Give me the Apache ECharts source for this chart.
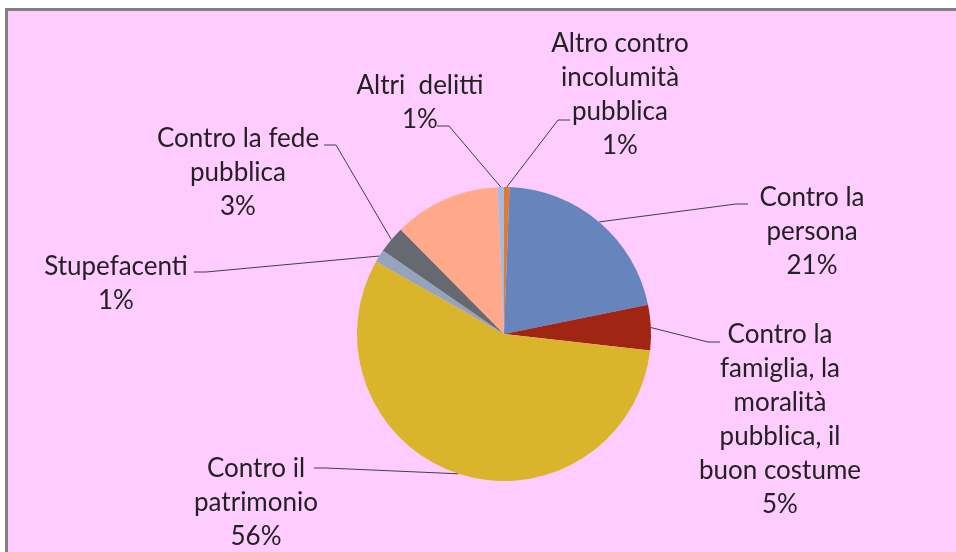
<!DOCTYPE html>
<html>
<head>
<meta charset="utf-8">
<script src="https://cdn.jsdelivr.net/npm/echarts@6/dist/echarts.min.js"></script>
<style>
  html, body { margin: 0; padding: 0; background: #ffffff; }
  #frame {
    position: absolute; left: 5px; top: 8px; width: 960px; height: 560px;
    border-top: 3px solid #808080; border-left: 3px solid #808080;
    background: #ffccff;
  }
  #chart { position: absolute; left: 0; top: 0; width: 956px; height: 552px; }
</style>
</head>
<body>
<div id="frame"></div>
<div id="chart"></div>
<script>
// slices, clockwise from 12 o'clock
const categories = [
  'Altro contro\nincolumità\npubblica',
  'Contro la\npersona',
  'Contro la\nfamiglia, la\nmoralità\npubblica, il\nbuon costume',
  'Contro il\npatrimonio',
  'Stupefacenti',
  'Contro la fede\npubblica',
  'Contro la P.A.',
  'Altri  delitti'
]
const values = [0.6, 21.2, 5.0, 56.4, 1.4, 3.0, 11.7, 0.7]
const showLabel = [true, true, true, true, true, true, false, true]

const colors = ['#e3792b', '#6685bc', '#a02513', '#dab42b', '#95a3bd', '#646a70', '#fda98a', '#a8b9de']

// label block centres and where the leader line meets the text (as placed in the original)
const labelCenters = [[620, 95], [812, 232], [780, 420], [256, 503], [116, 284], [238, 173], null, [420, 103]]
const labelAnchors = [[570, 120], [748, 204], [720, 342], [314, 468], [194, 272], [324, 145], null, [437, 126]]
const tickLen = 12

const chart = echarts.init(document.getElementById('chart'))

// middle of the slice's outer arc, taken from the pie's own layout
const arcMid = idx => {
  try {
    const lay = chart.getModel().getSeriesByIndex(0).getData().getItemLayout(idx)
    const mid = (lay.startAngle + lay.endAngle) / 2
    return [lay.cx + lay.r * Math.cos(mid), lay.cy + lay.r * Math.sin(mid)]
  } catch (e) {
    return null
  }
}

const option = {
  backgroundColor: 'transparent',
  animation: false,
  series: [
    {
      type: 'pie',
      center: [504, 334],
      radius: 147,
      startAngle: 90,
      clockwise: true,
      avoidLabelOverlap: false,
      itemStyle: { borderWidth: 0 },
      label: {
        show: true,
        color: '#222222',
        fontFamily: 'Lato',
        fontSize: 26,
        lineHeight: 34,
        align: 'center',
        formatter: p => p.name + '\n' + Math.round(p.percent) + '%'
      },
      labelLine: {
        show: true,
        length: 10,
        length2: 8,
        lineStyle: { color: '#404040', width: 1 }
      },
      labelLayout: params => {
        const i = params.dataIndex
        const c = labelCenters[i]
        if (!c) return {}
        const out = { x: c[0], y: c[1], align: 'center', verticalAlign: 'middle' }
        const a = labelAnchors[i]
        const p0 = arcMid(i)
        if (a && p0) {
          const dir = p0[0] < a[0] ? -1 : 1
          out.labelLinePoints = [p0, [a[0] + dir * tickLen, a[1]], a]
        }
        return out
      },
      data: categories.map((name, i) => ({
        name,
        value: values[i],
        itemStyle: { color: colors[i] },
        label: { show: showLabel[i] },
        labelLine: { show: showLabel[i] }
      }))
    }
  ]
}

chart.setOption(option)
</script>
</body>
</html>
